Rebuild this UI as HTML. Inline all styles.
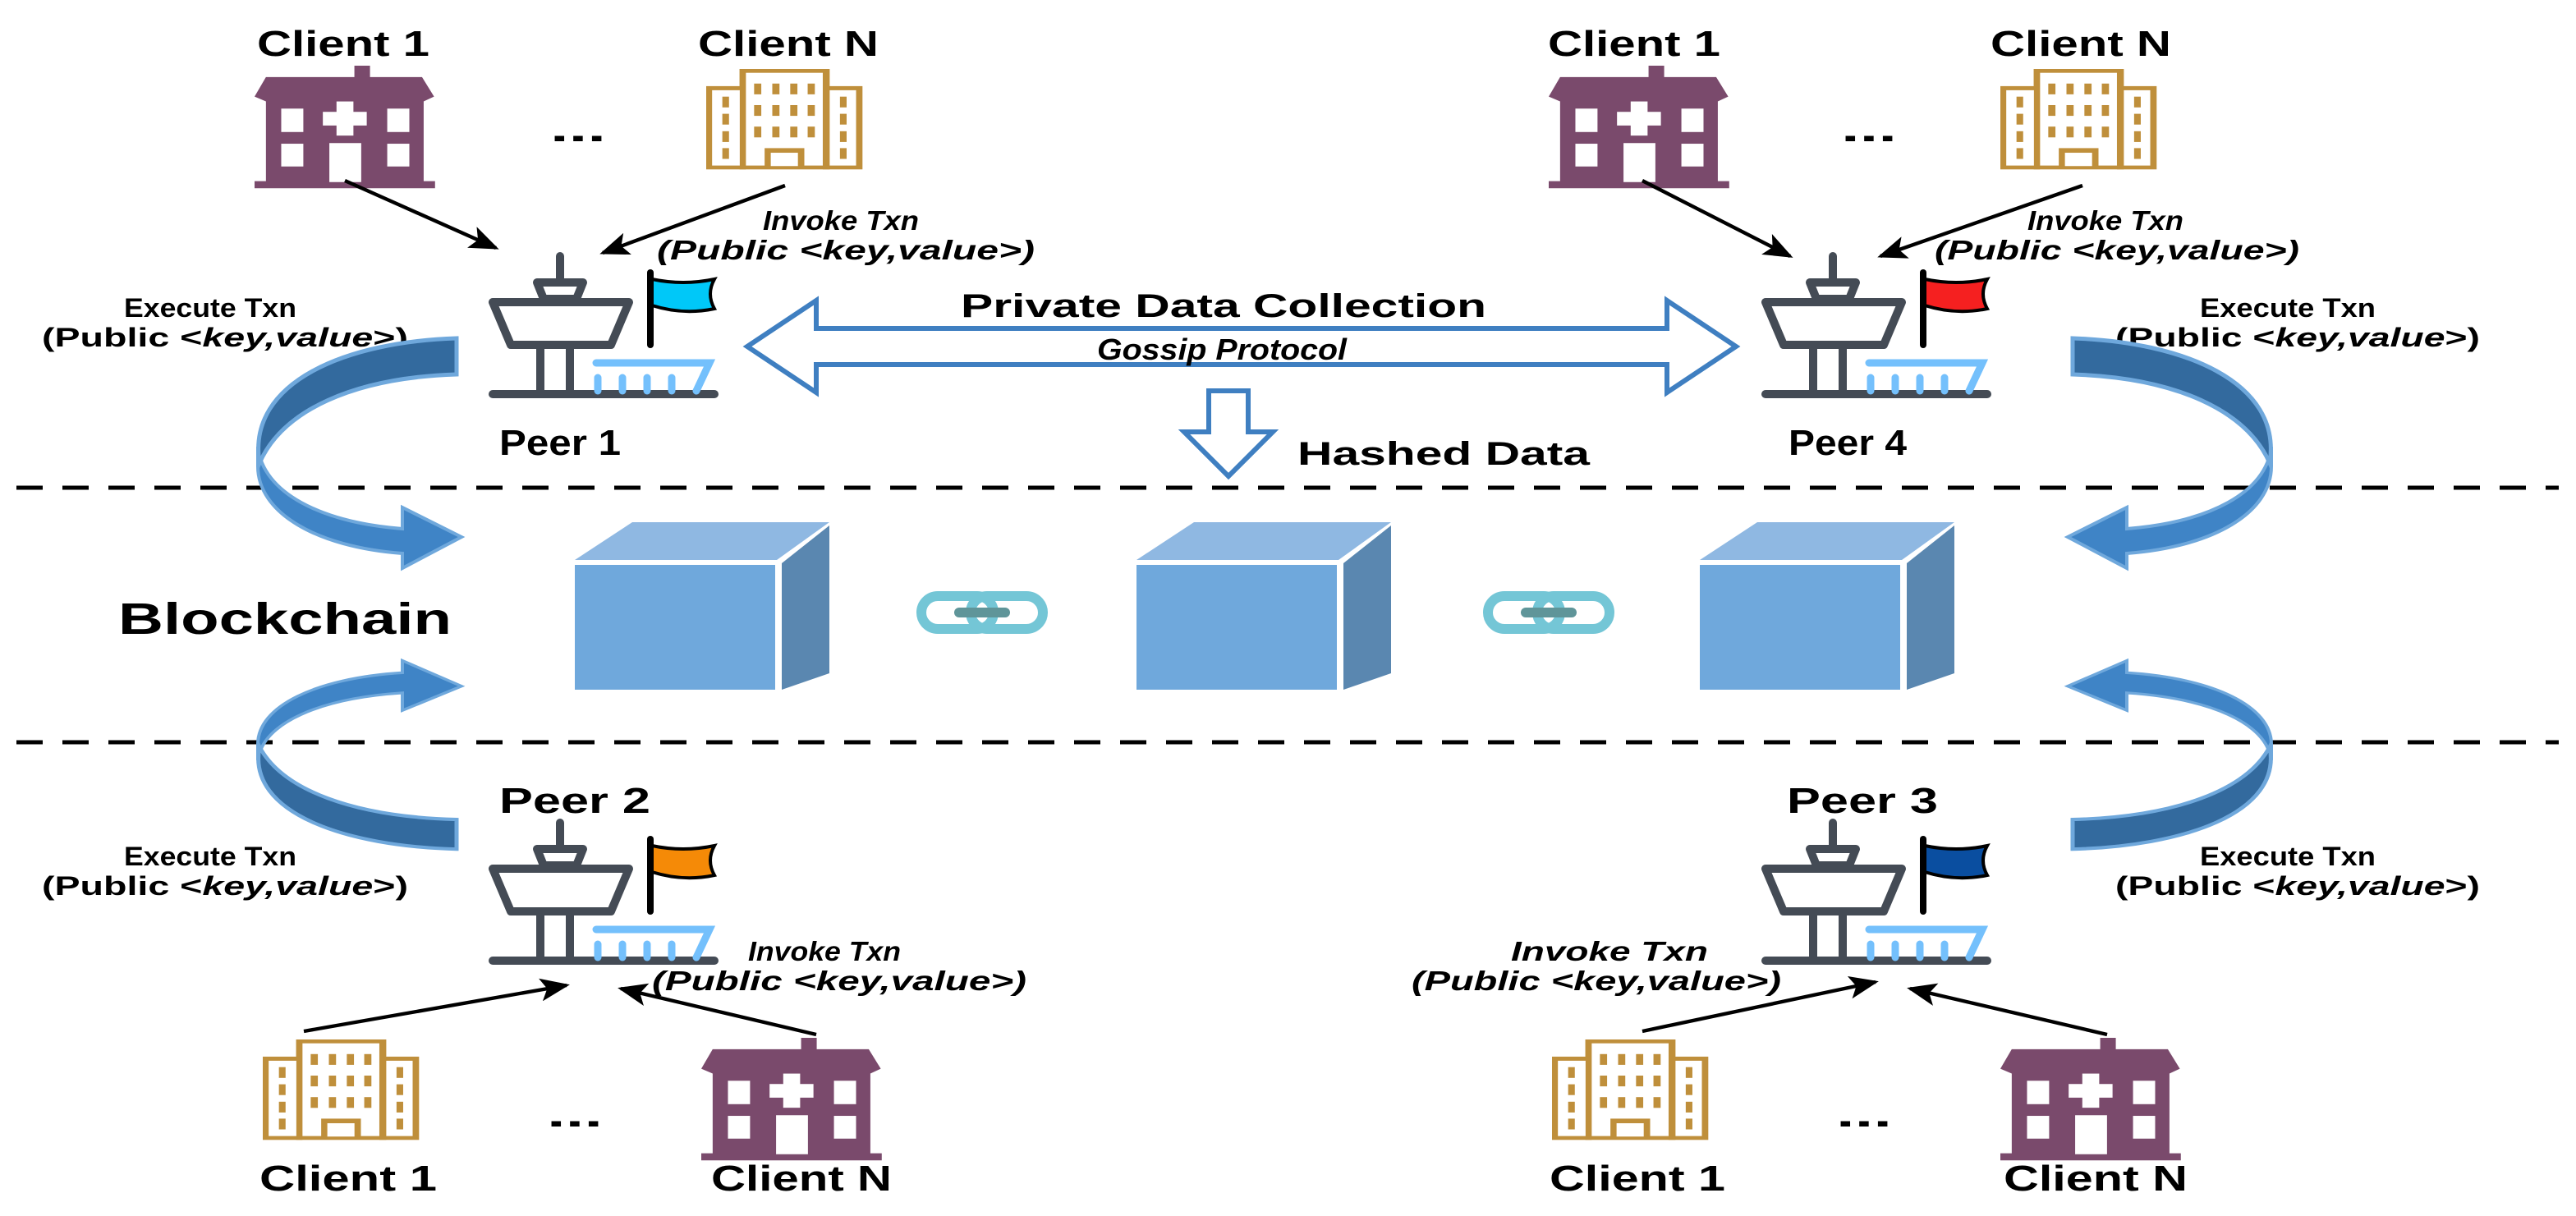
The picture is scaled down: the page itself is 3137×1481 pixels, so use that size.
<!DOCTYPE html>
<html><head><meta charset="utf-8"><style>html,body{margin:0;padding:0;background:#fff}svg{display:block}</style></head>
<body>
<svg width="3137" height="1481" viewBox="0 0 1568.5 740.5" xmlns="http://www.w3.org/2000/svg" font-family="Liberation Sans, Arial, sans-serif">
<defs>
<marker id="ah" markerUnits="userSpaceOnUse" markerWidth="18" markerHeight="14" refX="16" refY="7" orient="auto"><path d="M0,0 L18,7 L0,14 L4,7 Z" fill="#000"/></marker>
<g id="hosp">
<rect x="377" y="65" width="48" height="45" fill="#7a4a6c"/>
<path d="M70,160 L105,100 L585,100 L622,160 L590,175 L590,420 L625,420 L625,442 L70,442 L70,420 L105,420 L105,175 Z" fill="#7a4a6c"/>
<g fill="#fff"><rect x="152" y="197" width="68" height="72"/><rect x="478" y="197" width="68" height="72"/><rect x="152" y="305" width="68" height="70"/><rect x="478" y="305" width="68" height="70"/><rect x="300" y="303" width="98" height="120"/><rect x="322" y="175" width="52" height="105"/><rect x="280" y="207" width="135" height="42"/></g>
</g>
<g id="bldg">
<g fill="#bf8f3b"><rect x="45" y="127" width="155" height="325"/><rect x="500" y="127" width="155" height="325"/><rect x="175" y="60" width="352" height="392"/></g>
<g fill="#fff"><rect x="68" y="143" width="108" height="294"/><rect x="527" y="143" width="103" height="294"/><rect x="200" y="75" width="300" height="362"/></g>
<g fill="#bf8f3b">
<rect x="232" y="117" width="28" height="42"/><rect x="303" y="117" width="28" height="42"/><rect x="373" y="117" width="28" height="42"/><rect x="441" y="117" width="28" height="42"/>
<rect x="232" y="201" width="28" height="42"/><rect x="303" y="201" width="28" height="42"/><rect x="373" y="201" width="28" height="42"/><rect x="441" y="201" width="28" height="42"/>
<rect x="232" y="285" width="28" height="42"/><rect x="303" y="285" width="28" height="42"/><rect x="373" y="285" width="28" height="42"/><rect x="441" y="285" width="28" height="42"/>
<rect x="108" y="168" width="26" height="42"/><rect x="108" y="235" width="26" height="42"/><rect x="108" y="303" width="26" height="42"/><rect x="108" y="369" width="26" height="42"/>
<rect x="567" y="168" width="26" height="42"/><rect x="567" y="235" width="26" height="42"/><rect x="567" y="303" width="26" height="42"/><rect x="567" y="369" width="26" height="42"/>
<rect x="273" y="369" width="155" height="70"/></g>
<rect x="297" y="387" width="106" height="52" fill="#fff"/>
</g>
<g id="peer">
<g stroke="#444b55" stroke-width="5" fill="none" stroke-linecap="round" stroke-linejoin="round">
<line x1="41" y1="-84" x2="41" y2="-70"/>
<path d="M27,-68 L55,-68 L51,-58 L31,-58 Z"/>
<path d="M0,-56 L83,-56 L72,-30 L11,-30 Z"/>
<line x1="29" y1="-30" x2="29" y2="0"/><line x1="47" y1="-30" x2="47" y2="0"/>
<line x1="0" y1="0" x2="135" y2="0"/>
</g>
<g stroke="#74c0fc" stroke-width="4.5" fill="none" stroke-linecap="round">
<path d="M63,-19 L132,-19 L124,-2"/>
<line x1="64" y1="-10" x2="64" y2="-2"/><line x1="79" y1="-10" x2="79" y2="-2"/><line x1="94" y1="-10" x2="94" y2="-2"/><line x1="109" y1="-10" x2="109" y2="-2"/>
</g>
<line x1="96" y1="-74" x2="96" y2="-30" stroke="#000" stroke-width="4" stroke-linecap="round"/>
</g>
<g id="curv">
<path d="M157,272 C160,300 195,318 245,322 L245,309 L281,327 L245,346 L245,337 C192,333 157,312 157,284 Z" fill="#3f84c6" stroke="#6fa8dc" stroke-width="2"/>
<path d="M278,206 L278,228 C215,230 172,250 158,282 C150,232 212,208 278,206 Z" fill="#336a9e" stroke="#6fa8dc" stroke-width="2.5"/>
</g>
</defs>

<g stroke="#000" stroke-width="2.5" stroke-dasharray="16 12">
<line x1="10" y1="297" x2="1558" y2="297"/>
<line x1="10" y1="452" x2="1558" y2="452"/>
</g>

<g font-weight="bold" font-size="22" text-anchor="middle" fill="#000">
<text x="209" y="34" textLength="105" lengthAdjust="spacingAndGlyphs">Client 1</text>
<text x="480" y="34" textLength="110" lengthAdjust="spacingAndGlyphs">Client N</text>
<text x="995" y="34" textLength="105" lengthAdjust="spacingAndGlyphs">Client 1</text>
<text x="1267" y="34" textLength="110" lengthAdjust="spacingAndGlyphs">Client N</text>
<text x="212" y="725" textLength="108" lengthAdjust="spacingAndGlyphs">Client 1</text>
<text x="488" y="725" textLength="110" lengthAdjust="spacingAndGlyphs">Client N</text>
<text x="997" y="725" textLength="107" lengthAdjust="spacingAndGlyphs">Client 1</text>
<text x="1276" y="725" textLength="112" lengthAdjust="spacingAndGlyphs">Client N</text>
<text x="352" y="86" textLength="34" lengthAdjust="spacingAndGlyphs">...</text>
<text x="1138" y="86" textLength="34" lengthAdjust="spacingAndGlyphs">...</text>
<text x="350" y="686" textLength="34" lengthAdjust="spacingAndGlyphs">...</text>
<text x="1135" y="686" textLength="34" lengthAdjust="spacingAndGlyphs">...</text>
<text x="341" y="277" textLength="74" lengthAdjust="spacingAndGlyphs">Peer 1</text>
<text x="1125" y="277" textLength="72" lengthAdjust="spacingAndGlyphs">Peer 4</text>
<text x="350" y="495" textLength="92" lengthAdjust="spacingAndGlyphs">Peer 2</text>
<text x="1134" y="495" textLength="92" lengthAdjust="spacingAndGlyphs">Peer 3</text>
</g>
<use href="#hosp" transform="translate(155,40) scale(0.198) translate(-70,-65)"/>
<use href="#bldg" transform="translate(430,42) scale(0.156) translate(-45,-60)"/>
<use href="#hosp" transform="translate(943,40) scale(0.198) translate(-70,-65)"/>
<use href="#bldg" transform="translate(1218,42) scale(0.156) translate(-45,-60)"/>
<use href="#bldg" transform="translate(160,633) scale(0.156) translate(-45,-60)"/>
<use href="#hosp" transform="translate(427,632) scale(0.198) translate(-70,-65)"/>
<use href="#bldg" transform="translate(945,633) scale(0.156) translate(-45,-60)"/>
<use href="#hosp" transform="translate(1218,632) scale(0.198) translate(-70,-65)"/>

<use href="#peer" transform="translate(300,240)"/>
<path d="M397,170 Q416,174 435,170 Q430,179 435,188 Q416,192 397,186 Z" fill="#00c8f8" stroke="#000" stroke-width="2"/>
<use href="#peer" transform="translate(1075,240)"/>
<path d="M1172,170 Q1191,174 1210,170 Q1205,179 1210,188 Q1191,192 1172,186 Z" fill="#f52020" stroke="#000" stroke-width="2"/>
<use href="#peer" transform="translate(300,585)"/>
<path d="M397,515 Q416,519 435,515 Q430,524 435,533 Q416,537 397,531 Z" fill="#f58a07" stroke="#000" stroke-width="2"/>
<use href="#peer" transform="translate(1075,585)"/>
<path d="M1172,515 Q1191,519 1210,515 Q1205,524 1210,533 Q1191,537 1172,531 Z" fill="#0a4ea0" stroke="#000" stroke-width="2"/>

<g stroke="#000" stroke-width="2.2" marker-end="url(#ah)">
<line x1="210" y1="110" x2="302" y2="151"/>
<line x1="478" y1="113" x2="367" y2="154"/>
<line x1="1000" y1="110" x2="1090" y2="156"/>
<line x1="1268" y1="113" x2="1145" y2="156"/>
<line x1="185" y1="628" x2="345" y2="600"/>
<line x1="497" y1="630" x2="378" y2="602"/>
<line x1="1000" y1="628" x2="1142" y2="598"/>
<line x1="1283" y1="630" x2="1163" y2="602"/>
</g>

<g font-weight="bold" font-style="italic" font-size="16.5" text-anchor="middle">
<text x="512" y="140" textLength="95" lengthAdjust="spacingAndGlyphs">Invoke Txn</text>
<text x="515" y="158" textLength="230" lengthAdjust="spacingAndGlyphs">(Public &lt;key,value&gt;)</text>
<text x="1282" y="140" textLength="95" lengthAdjust="spacingAndGlyphs">Invoke Txn</text>
<text x="1289" y="158" textLength="222" lengthAdjust="spacingAndGlyphs">(Public &lt;key,value&gt;)</text>
<text x="502" y="585" textLength="93" lengthAdjust="spacingAndGlyphs">Invoke Txn</text>
<text x="511" y="603" textLength="228" lengthAdjust="spacingAndGlyphs">(Public &lt;key,value&gt;)</text>
<text x="980" y="585" textLength="120" lengthAdjust="spacingAndGlyphs">Invoke Txn</text>
<text x="972" y="603" textLength="225" lengthAdjust="spacingAndGlyphs">(Public &lt;key,value&gt;)</text>
</g>
<g font-weight="bold" font-size="16" text-anchor="middle">
<text x="128" y="193" textLength="105" lengthAdjust="spacingAndGlyphs">Execute Txn</text>
<text x="137" y="211" textLength="223" lengthAdjust="spacingAndGlyphs">(Public &lt;<tspan font-style="italic">key,value</tspan>&gt;)</text>
<text x="1393" y="193" textLength="107" lengthAdjust="spacingAndGlyphs">Execute Txn</text>
<text x="1399" y="211" textLength="222" lengthAdjust="spacingAndGlyphs">(Public &lt;<tspan font-style="italic">key,value</tspan>&gt;)</text>
<text x="128" y="527" textLength="105" lengthAdjust="spacingAndGlyphs">Execute Txn</text>
<text x="137" y="545" textLength="223" lengthAdjust="spacingAndGlyphs">(Public &lt;<tspan font-style="italic">key,value</tspan>&gt;)</text>
<text x="1393" y="527" textLength="107" lengthAdjust="spacingAndGlyphs">Execute Txn</text>
<text x="1399" y="545" textLength="222" lengthAdjust="spacingAndGlyphs">(Public &lt;<tspan font-style="italic">key,value</tspan>&gt;)</text>
</g>

<path d="M455,211 L497,183 L497,200 L1015,200 L1015,183 L1057,211 L1015,239 L1015,222 L497,222 L497,239 Z" fill="#fff" stroke="#3f7fc1" stroke-width="3" stroke-linejoin="miter"/>
<text x="745" y="193" font-weight="bold" font-size="20" text-anchor="middle" textLength="320" lengthAdjust="spacingAndGlyphs">Private Data Collection</text>
<text x="744" y="219" font-weight="bold" font-style="italic" font-size="18" text-anchor="middle" textLength="152" lengthAdjust="spacingAndGlyphs">Gossip Protocol</text>
<path d="M736,238 L760,238 L760,263 L775,263 L748,290 L721,263 L736,263 Z" fill="#fff" stroke="#3f7fc1" stroke-width="3"/>
<text x="879" y="283" font-weight="bold" font-size="20" text-anchor="middle" textLength="178" lengthAdjust="spacingAndGlyphs">Hashed Data</text>

<text x="72" y="386" font-weight="bold" font-size="27" textLength="203" lengthAdjust="spacingAndGlyphs">Blockchain</text>

<g id="cube">
<polygon points="350,341 385,318 505,318 473,341" fill="#8fb8e2"/>
<rect x="350" y="344" width="122" height="76" fill="#6fa8dc"/>
<polygon points="476,343 505,320 505,410 476,420" fill="#5a87b0"/>
</g>
<use href="#cube" transform="translate(342,0)"/>
<use href="#cube" transform="translate(685,0)"/>
<g id="chain">
<rect x="561" y="363" width="44" height="20" rx="10" fill="none" stroke="#74c6d6" stroke-width="6"/>
<rect x="591" y="363" width="44" height="20" rx="10" fill="none" stroke="#74c6d6" stroke-width="6"/>
<line x1="584" y1="373" x2="612" y2="373" stroke="#5f9599" stroke-width="6" stroke-linecap="round"/>
</g>
<use href="#chain" transform="translate(345,0)"/>

<use href="#curv"/>
<use href="#curv" transform="translate(0,686) scale(1,-0.82)"/>
<use href="#curv" transform="translate(1540,0) scale(-1,1)"/>
<use href="#curv" transform="translate(1540,686) scale(-1,-0.82)"/>
</svg>
</body></html>
